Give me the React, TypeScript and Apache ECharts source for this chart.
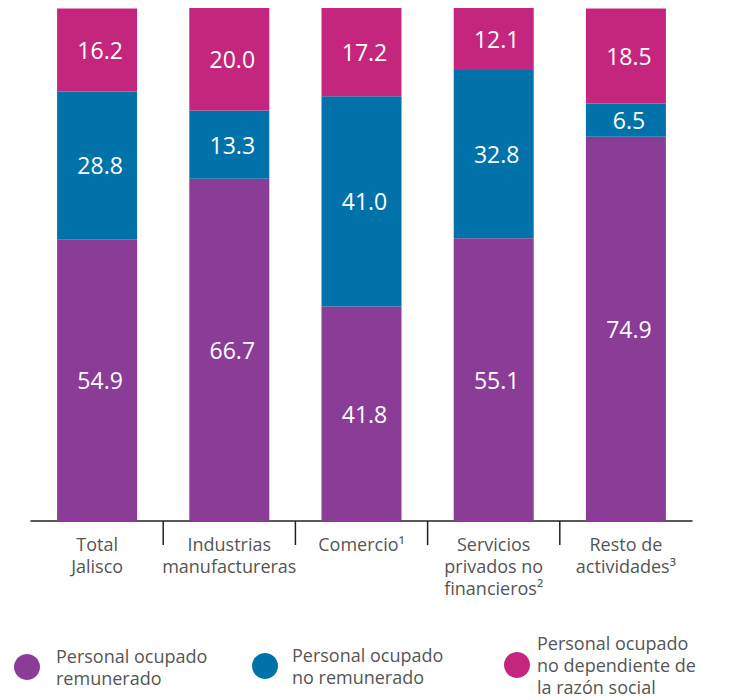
import React, { useEffect, useRef } from "react";
import * as echarts from "echarts";

const categories = [
  "Total\nJalisco",
  "Industrias\nmanufactureras",
  "Comercio¹",
  "Servicios\nprivados no\nfinancieros²",
  "Resto de\nactividades³",
];
const remunerado = [54.9, 66.7, 41.8, 55.1, 74.9];
const noRemunerado = [28.8, 13.3, 41.0, 32.8, 6.5];
const noDependiente = [16.2, 20.0, 17.2, 12.1, 18.5];
const seriesNames = [
  "Personal ocupado\nremunerado",
  "Personal ocupado\nno remunerado",
  "Personal ocupado\nno dependiente de\nla razón social",
];
const colors = ["#8B3C97", "#0072AA", "#C4267E"];

const FONT = "'Open Sans', 'Noto Sans', sans-serif";
const GREY = "#555555";

export default function App() {
  const ref = useRef<HTMLDivElement>(null);

  useEffect(() => {
    if (!ref.current) return;
    const chart = echarts.init(ref.current, undefined, { renderer: "svg" });

    const valueLabel = {
      show: true,
      position: "inside",
      color: "#ffffff",
      fontSize: 23,
      fontFamily: FONT,
      offset: [3, 0],
      formatter: (p: any) => Number(p.value).toFixed(1),
    };

    const seriesData = [remunerado, noRemunerado, noDependiente];

    const legendTextBase = {
      color: GREY,
      fontSize: 18,
      lineHeight: 22,
      fontFamily: FONT,
    };

    const legendPos = [
      { left: 6, top: 637, pad: 10 },
      { left: 244, top: 636, pad: 8 },
      { left: 496, top: 624, pad: 1 },
    ];

    chart.setOption({
      animation: false,
      grid: { left: 23, right: 29, top: 0, bottom: 179, containLabel: false },
      xAxis: {
        type: "category",
        data: categories,
        axisLine: { show: true, lineStyle: { color: "#222222", width: 1.5 } },
        axisTick: { show: false },
        axisLabel: {
          color: GREY,
          fontSize: 18,
          lineHeight: 22,
          fontFamily: FONT,
          margin: 12,
          interval: 0,
          verticalAlign: "top",
        },
      },
      yAxis: {
        type: "value",
        min: 0,
        max: 100,
        show: false,
        splitLine: { show: false },
      },
      legend: legendPos.map((lp, i) => ({
        data: [seriesNames[i]],
        left: lp.left,
        top: lp.top,
        padding: 0,
        orient: "horizontal",
        icon: "circle",
        itemWidth: 28,
        itemHeight: 26,
        selectedMode: false,
        textStyle: { ...legendTextBase, padding: [0, 0, 0, lp.pad] },
      })),
      series: seriesData.map((d, i) => ({
        name: seriesNames[i],
        type: "bar",
        stack: "total",
        data: d,
        barWidth: 80,
        itemStyle: { color: colors[i] },
        label: valueLabel,
      })),
    });

    const xs = categories.map((_, i) =>
      chart.convertToPixel({ xAxisIndex: 0 }, i) as number
    );
    const y0 = chart.convertToPixel({ yAxisIndex: 0 }, 0) as number;
    const separators = [];
    for (let i = 0; i < xs.length - 1; i++) {
      const x = (xs[i] + xs[i + 1]) / 2;
      separators.push({
        type: "line",
        shape: { x1: x, y1: y0, x2: x, y2: y0 + 24 },
        style: { stroke: "#222222", lineWidth: 1.5 },
        silent: true,
      });
    }
    chart.setOption({ graphic: separators });

    return () => chart.dispose();
  }, []);

  return <div ref={ref} style={{ width: 713, height: 692 }} />;
}
